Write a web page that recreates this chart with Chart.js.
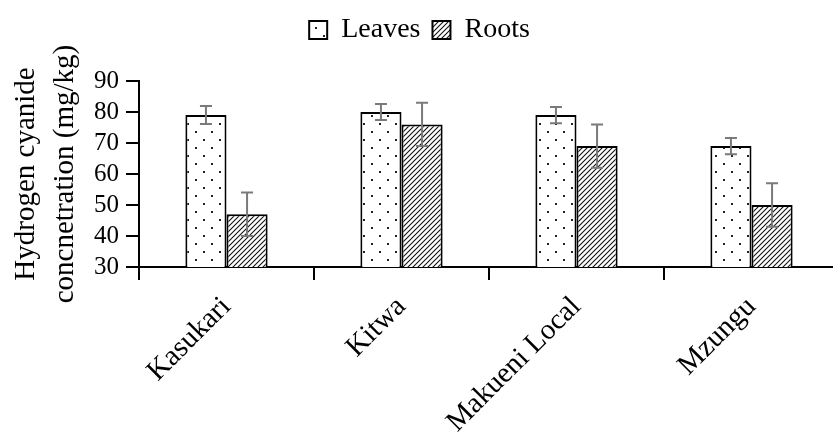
<!DOCTYPE html>
<html>
<head>
<meta charset="utf-8">
<script src="https://cdn.jsdelivr.net/npm/chart.js@4.4.1/dist/chart.umd.min.js"></script>
<style>
  html, body { margin: 0; padding: 0; background: #fff; overflow: hidden; }
  #wrap { width: 833px; height: 432px; overflow: hidden; }
  canvas { display: block; }
</style>
</head>
<body>
<div id="wrap"><canvas id="c" width="840" height="432"></canvas></div>
<script>
// Cassava cultivars and hydrogen cyanide concentration (mg/kg)
const cultivars = ['Kasukari', 'Kitwa', 'Makueni Local', 'Mzungu'];
const leaves = [79, 80, 79, 69];
const roots = [47, 76, 69, 50];
const leavesErr = [2.9, 2.6, 2.6, 2.6];
const rootsErr = [7, 7, 7, 7];
const yTicks = [30, 40, 50, 60, 70, 80, 90];

const SERIF = "'Liberation Serif', 'DejaVu Serif', 'Times New Roman', serif";
Chart.defaults.font.family = SERIF;
Chart.defaults.color = '#000';

// dotted fill for leaves
function dotPattern() {
  const t = document.createElement('canvas');
  t.width = 16; t.height = 16;
  const g = t.getContext('2d');
  g.fillStyle = '#fff';
  g.fillRect(0, 0, 16, 16);
  g.fillStyle = '#222';
  g.fillRect(3, 3, 2, 2);
  g.fillRect(11, 11, 2, 2);
  return g.createPattern(t, 'repeat');
}

// diagonal hatch fill for roots
function hatchPattern() {
  const s = 5;
  const t = document.createElement('canvas');
  t.width = s; t.height = s;
  const g = t.getContext('2d');
  g.fillStyle = '#fff';
  g.fillRect(0, 0, s, s);
  g.strokeStyle = '#111';
  g.lineWidth = 1.1;
  g.beginPath();
  g.moveTo(-1, s + 1); g.lineTo(s + 1, -1);
  g.moveTo(-1, 1); g.lineTo(1, -1);
  g.moveTo(s - 1, s + 1); g.lineTo(s + 1, s - 1);
  g.stroke();
  return g.createPattern(t, 'repeat');
}

// whiskers for mean ± error
const errorBars = {
  id: 'errorBars',
  afterDatasetsDraw(chart) {
    const ctx = chart.ctx;
    const y = chart.scales.y;
    ctx.save();
    ctx.strokeStyle = '#7a7a7a';
    ctx.lineWidth = 2;
    chart.data.datasets.forEach((ds, i) => {
      const meta = chart.getDatasetMeta(i);
      meta.data.forEach((bar, j) => {
        const v = ds.data[j], e = ds.errors[j];
        const top = y.getPixelForValue(v + e);
        const bot = y.getPixelForValue(v - e);
        const x = bar.x, w = 6;
        ctx.beginPath();
        ctx.moveTo(x, top); ctx.lineTo(x, bot);
        ctx.moveTo(x - w, top); ctx.lineTo(x + w, top);
        ctx.moveTo(x - w, bot); ctx.lineTo(x + w, bot);
        ctx.stroke();
      });
    });
    ctx.restore();
  }
};

// extra room under the legend
const legendGap = {
  id: 'legendGap',
  afterInit(chart) {
    const lg = chart.legend;
    if (!lg) return;
    const fit = lg.fit;
    lg.fit = function () { fit.call(this); this.height += 27; };
  }
};

new Chart(document.getElementById('c'), {
  type: 'bar',
  data: {
    labels: cultivars,
    datasets: [
      { label: 'Leaves', data: leaves, errors: leavesErr, backgroundColor: dotPattern(),
        borderColor: '#000', borderWidth: 2 },
      { label: 'Roots', data: roots, errors: rootsErr, backgroundColor: hatchPattern(),
        borderColor: '#000', borderWidth: 2 }
    ]
  },
  options: {
    responsive: false,
    devicePixelRatio: 1,
    animation: false,
    layout: { padding: { left: 0, right: 1, top: 4, bottom: 0 } },
    datasets: { bar: { categoryPercentage: 0.47, barPercentage: 1 } },
    plugins: {
      tooltip: { enabled: false },
      legend: {
        position: 'top',
        labels: {
          font: { size: 28, family: SERIF },
          color: '#000',
          boxWidth: 18,
          boxHeight: 18,
          padding: 12
        }
      }
    },
    scales: {
      x: {
        grid: { display: true, drawOnChartArea: false, drawTicks: true, tickLength: 13,
                color: '#000', lineWidth: 2, offset: true },
        border: { display: true, color: '#000', width: 2 },
        ticks: { maxRotation: 45, minRotation: 45, autoSkip: false, padding: 10,
                 font: { size: 29, family: SERIF }, color: '#000' },
        afterFit(s) { s.height = 165; }
      },
      y: {
        min: 30, max: 90,
        afterBuildTicks(s) { s.ticks = yTicks.map(v => ({ value: v })); },
        grid: { display: true, drawOnChartArea: false, drawTicks: true, tickLength: 13,
                color: '#000', lineWidth: 2 },
        border: { display: true, color: '#000', width: 2 },
        ticks: { autoSkip: false, padding: 7, font: { size: 25, family: SERIF }, color: '#000' },
        title: {
          display: true,
          text: ['Hydrogen cyanide', 'concnetration (mg/kg)'],
          font: { size: 29, family: SERIF, lineHeight: 1.35 },
          color: '#000',
          padding: { top: 7, bottom: 0 }
        },
        afterFit(s) { s.width = 139; }
      }
    }
  },
  plugins: [errorBars, legendGap]
});
</script>
</body>
</html>
